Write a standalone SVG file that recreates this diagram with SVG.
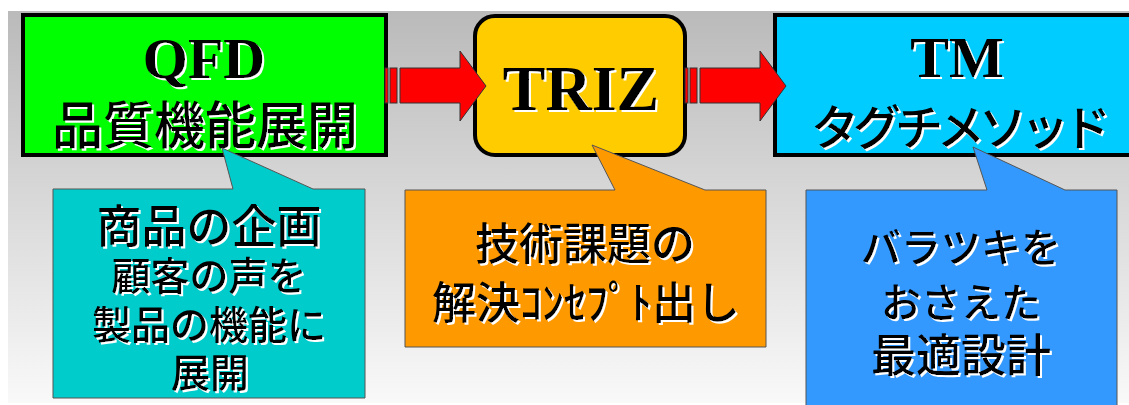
<svg xmlns="http://www.w3.org/2000/svg" width="1129" height="405" viewBox="0 0 1129 405">
  <defs>
    <linearGradient id="bg" x1="0" y1="0" x2="0" y2="1">
      <stop offset="0" stop-color="#bababa"/>
      <stop offset="1" stop-color="#f9f9f9"/>
    </linearGradient>
    <filter id="emb" x="-5%" y="-10%" width="110%" height="130%">
      <feDropShadow dx="2" dy="2" stdDeviation="0.3" flood-color="#ffffff" flood-opacity="1"/>
    </filter>
    <style>
      .box { stroke: #000; stroke-width: 4; }
      .en { font-family: "Liberation Serif", "Times New Roman", serif; font-weight: bold; fill: #000; text-anchor: middle; filter: url(#emb); }
      .jp { font-family: "Noto Sans CJK JP", "Noto Sans", sans-serif; font-weight: 500; fill: #000; text-anchor: middle; filter: url(#emb); }
      .call { stroke: #555; stroke-width: 1; }
      .arrow { fill: #ff0000; stroke: #333; stroke-width: 1; }
    </style>
  </defs>

  <rect x="0" y="0" width="1129" height="405" fill="#ffffff"/>
  <rect x="8" y="11" width="1121" height="392" fill="url(#bg)"/>

  <g id="qfd">
    <rect class="box" x="23" y="15" width="363" height="140" fill="#00ff00"/>
    <text class="en" x="204" y="78" font-size="58">QFD</text>
    <text class="jp" x="205" y="144" font-size="51">品質機能展開</text>
  </g>

  <g id="triz">
    <rect class="box" x="475" y="16" width="210" height="139" rx="20" fill="#ffcc00"/>
    <text class="en" x="581" y="110" font-size="64">TRIZ</text>
  </g>

  <g id="tm">
    <rect class="box" x="775" y="15" width="400" height="140" fill="#00ccff"/>
    <text class="en" x="957" y="77" font-size="58">TM</text>
    <text class="jp" x="958" y="145" font-size="48" letter-spacing="-6">タグチメソッド</text>
  </g>

  <g id="connectors">
    <g id="arrow-qfd-triz">
      <rect class="arrow" x="385" y="68" width="3" height="35"/>
      <rect class="arrow" x="390" y="68" width="7" height="35"/>
      <path class="arrow" d="M400,68 H460 V51 L486,86 L460,121 V103 H400 Z"/>
    </g>
    <g id="arrow-triz-tm">
      <rect class="arrow" x="685" y="68" width="3" height="35"/>
      <rect class="arrow" x="690" y="68" width="7" height="35"/>
      <path class="arrow" d="M700,68 H760 V51 L786,86 L760,121 V103 H700 Z"/>
    </g>
  </g>

  <g id="note-qfd">
    <path class="call" d="M53,189 H233 L222,148 L313,189 H365 V398 H53 Z" fill="#00cccc"/>
    <text class="jp" x="209" y="243" font-size="45">商品の企画</text>
    <text class="jp" x="209" y="290" font-size="39">顧客の声を</text>
    <text class="jp" x="209" y="339" font-size="39">製品の機能に</text>
    <text class="jp" x="210" y="387" font-size="39">展開</text>
  </g>

  <g id="note-triz">
    <path class="call" d="M405,190 H615 L592,145 L705,190 H766 V347 H405 Z" fill="#ff9900"/>
    <text class="jp" x="585" y="260" font-size="44">技術課題の</text>
    <text class="jp" x="586" y="319" font-size="44">解決ｺﾝｾﾌﾟﾄ出し</text>
  </g>

  <g id="note-tm">
    <path class="call" d="M806,190 H987 L973,147 L1065,190 H1117 V410 H806 Z" fill="#3399ff"/>
    <text class="jp" x="961" y="262" font-size="40">バラツキを</text>
    <text class="jp" x="961" y="317" font-size="40">おさえた</text>
    <text class="jp" x="961" y="372" font-size="45">最適設計</text>
  </g>
</svg>
